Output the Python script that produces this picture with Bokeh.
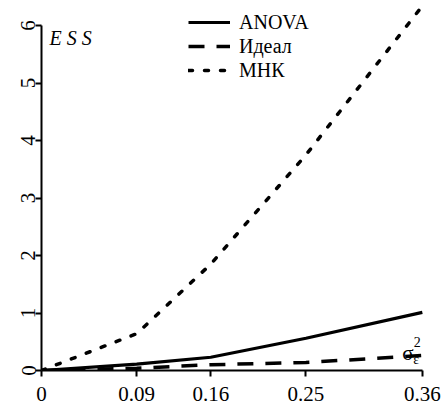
from bokeh.plotting import figure
from bokeh.models import Range1d, FixedTicker, Legend, LegendItem, Label
from bokeh.embed import file_html
from bokeh.resources import INLINE

# ---- data ----
x_vals = [0, 0.09, 0.16, 0.25, 0.36]
x_tick_labels = ["0", "0.09", "0.16", "0.25", "0.36"]
y_ticks = [0, 1, 2, 3, 4, 5, 6]
anova = [0, 0.11, 0.23, 0.56, 1.01]
ideal = [0, 0.04, 0.10, 0.14, 0.26]
mnk = [0, 0.64, 1.85, 3.75, 6.34]
series_names = ["ANOVA", "Идеал", "МНК"]

FONT = "Liberation Serif"

p = figure(width=443, height=410, output_backend="svg", toolbar_location=None,
           x_range=Range1d(0, 0.380), y_range=Range1d(0, 6.435),
           min_border_left=41, min_border_right=0, min_border_top=0,
           min_border_bottom=40)
p.outline_line_color = None
p.xgrid.visible = False
p.ygrid.visible = False
p.background_fill_color = "white"
p.border_fill_color = "white"

r1 = p.line(x_vals, anova, line_color="black", line_width=3.2)
r2 = p.line(x_vals, ideal, line_color="black", line_width=3.5, line_dash="16 12")
r3 = p.line(x_vals, mnk, line_color="black", line_width=3.5, line_dash="4 12",
            line_cap="round")

# axes
xa = p.xaxis[0]
xa.ticker = FixedTicker(ticks=x_vals)
xa.major_label_overrides = {v: t for v, t in zip(x_vals, x_tick_labels)}
xa.bounds = (x_vals[0], x_vals[-1])
ya = p.yaxis[0]
ya.ticker = FixedTicker(ticks=y_ticks)
ya.bounds = (y_ticks[0], y_ticks[-1])
ya.major_label_orientation = "vertical"
for ax in (xa, ya):
    ax.axis_line_width = 2
    ax.axis_line_color = "black"
    ax.major_tick_line_width = 2
    ax.major_tick_line_color = "black"
    ax.major_tick_out = 6
    ax.major_tick_in = 0
    ax.minor_tick_line_color = None
    ax.major_label_text_font = FONT
    ax.major_label_text_font_size = "21px"
    ax.major_label_text_color = "black"
xa.major_label_standoff = 10
ya.major_label_standoff = 0

legend = Legend(items=[LegendItem(label=series_names[0], renderers=[r1]),
                       LegendItem(label=series_names[1], renderers=[r2]),
                       LegendItem(label=series_names[2], renderers=[r3])],
                location=(147, 288), orientation="vertical",
                glyph_width=42, glyph_height=24, label_height=24,
                label_standoff=9, spacing=0, padding=0, margin=0,
                border_line_color=None, background_fill_alpha=0,
                label_text_font=FONT, label_text_font_size="20px",
                label_text_color="black")
p.add_layout(legend)

p.add_layout(Label(x=0.0076, y=5.79, text="E S S", text_font=FONT,
                   text_font_style="italic", text_font_size="20px",
                   text_baseline="alphabetic", text_color="black"))
p.add_layout(Label(x=0.3411, y=0.30, text="σ", text_font=FONT,
                   text_font_size="21px", text_baseline="alphabetic",
                   text_color="black"))
p.add_layout(Label(x=0.3518, y=0.50, text="2", text_font=FONT,
                   text_font_size="14px", text_baseline="alphabetic",
                   text_color="black"))
p.add_layout(Label(x=0.3515, y=0.20, text="ε", text_font=FONT,
                   text_font_size="14px", text_baseline="alphabetic",
                   text_color="black"))

open("out.html", "w").write(file_html(p, INLINE))
